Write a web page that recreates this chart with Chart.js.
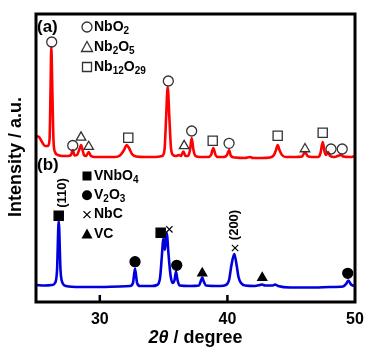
<!DOCTYPE html>
<html>
<head>
<meta charset="utf-8">
<script src="https://cdn.jsdelivr.net/npm/chart.js@4.4.0/dist/chart.umd.min.js"></script>
<style>
  body { margin: 0; background: #fff; }
  #wrap { width: 367px; height: 347px; }
</style>
</head>
<body>
<div id="wrap"><canvas id="xrd" width="367" height="347"></canvas></div>
<script>
// Pattern (a) - red trace (2theta / intensity in arbitrary units)
const redX = [25.0, 25.24, 25.47, 25.7, 25.94, 26.06, 26.14, 26.2, 26.28, 26.37, 26.49, 26.72, 27.04, 27.5,
  27.74, 27.88, 28.02, 28.21, 28.41, 28.53, 28.65, 28.76, 28.92, 29.13, 29.31, 29.62, 30.41, 31.19, 31.58,
  31.9, 32.1, 32.29, 32.52, 32.84, 33.54, 34.33, 34.88, 35.07, 35.19, 35.32, 35.46, 35.58, 35.74, 35.97,
  36.21, 36.36, 36.55, 36.72, 36.91, 37.07, 37.2, 37.34, 37.5, 37.85, 38.48, 38.72, 38.9, 39.07, 39.26,
  39.73, 39.97, 40.13, 40.28, 40.6, 41.38, 41.77, 42.0, 42.71, 43.34, 43.65, 43.81, 43.94, 44.08, 44.28,
  44.59, 45.3, 45.85, 46.08, 46.28, 46.63, 47.1, 47.3, 47.47, 47.62, 47.73, 47.89, 48.05, 48.37, 48.92,
  49.08, 49.62, 50.0];
const redY = [166, 165, 160, 156, 156, 162, 212, 255, 212, 162, 150, 147, 146, 146,
  147, 152, 146.5, 147, 153, 157, 152, 147, 146, 150, 146, 145, 145, 145, 146.5,
  152, 157, 154, 148, 145.5, 145, 145, 146, 152, 182, 215, 182, 154, 147, 146,
  147, 146, 150.5, 146, 146, 152, 164, 152, 146, 145, 145, 147, 154, 147, 145,
  145, 147, 152, 146, 144.5, 144, 145, 144, 144, 144.5, 147, 152, 157, 152, 147,
  145, 145, 145.5, 150, 146, 145, 145, 149, 160, 150, 147, 150, 146, 145, 147,
  145.5, 145, 146];

// Pattern (b) - blue trace
const blueX = [25.0, 25.7, 26.25, 26.49, 26.65, 26.78, 26.92, 27.08, 27.35, 28.45, 30.02, 31.58, 32.37,
  32.6, 32.76, 32.92, 33.15, 34.09, 34.48, 34.72, 34.87, 34.98, 35.1, 35.24, 35.39, 35.54, 35.7, 35.86,
  35.97, 36.09, 36.25, 37.07, 37.77, 37.89, 38.03, 38.16, 38.32, 39.42, 39.89, 40.13, 40.32, 40.54, 40.72,
  40.87, 41.07, 41.38, 42.16, 42.55, 42.71, 42.95, 43.57, 43.73, 43.97, 44.91, 45.69, 46.87, 48.05, 49.07,
  49.3, 49.48, 49.69, 50.0];
const blueY = [17, 16.5, 17, 19, 32, 81, 32, 19, 16, 15, 15, 15.5, 16,
  19, 33.5, 19, 16, 16, 17, 24, 47, 64, 52, 69, 47, 27, 19, 22,
  30.5, 22, 16.5, 16, 16.5, 20, 24.5, 20, 16.5, 16, 17, 22, 37, 48, 37,
  25, 19, 16.5, 16, 17, 17.5, 16.5, 16.5, 17.5, 16, 14.5, 14.5, 14.5, 15, 15.5,
  18, 21.5, 17.5, 16];

// Phase markers for (a)
const nbo2X = [26.23, 27.88, 35.37, 37.2, 40.13, 48.12, 49.0];
const nbo2Y = [260, 156.5, 221, 171, 158.7, 153, 153];
const nb2o5X = [28.53, 29.13, 36.61, 46.08];
const nb2o5Y = [164.7, 155.3, 156.2, 153];
const nb12o29X = [32.23, 38.85, 43.94, 47.47];
const nb12o29Y = [164.3, 161.3, 166.3, 169.3];

// Phase markers for (b)
const vnbo4X = [26.78, 34.77];
const vnbo4Y = [86.3, 69.3];
const v2o3X = [32.76, 36.03, 49.43];
const v2o3Y = [40.3, 36.7, 28.7];
const nbcX = [35.45, 40.6];
const nbcY = [72.7, 54];
const vcX = [38.03, 42.73];
const vcY = [28.7, 24.3];

// Axis ticks
const tickValues = [30, 40, 50];

const legendA = ['NbO2', 'Nb2O5', 'Nb12O29'];
const legendB = ['VNbO4', 'V2O3', 'NbC', 'VC'];
const peakLabels = ['(110)', '(200)'];

const FONT = '"Liberation Sans", Arial, sans-serif';

function toPoints(xs, ys) {
    return xs.map((x, i) => ({ x: x, y: ys[i] }));
}

function markerSet(xs, ys, style, radius, filled, width) {
    return {
        data: toPoints(xs, ys),
        showLine: false,
        pointStyle: style,
        pointRadius: radius,
        pointHoverRadius: radius,
        pointBorderWidth: width || 1.3,
        pointBorderColor: filled ? '#000' : '#333',
        pointBackgroundColor: filled ? '#000' : 'rgba(0,0,0,0)',
        order: 0
    };
}

// Draw a symbol for the in-plot legends
function drawSymbol(ctx, style, filled, x, y) {
    ctx.save();
    ctx.beginPath();
    if (style === 'circle') {
        ctx.arc(x, y, 5, 0, Math.PI * 2);
    } else if (style === 'triangle') {
        ctx.moveTo(x, y - 5.5);
        ctx.lineTo(x + 5.5, y + 4.5);
        ctx.lineTo(x - 5.5, y + 4.5);
        ctx.closePath();
    } else if (style === 'rect') {
        ctx.rect(x - 4.5, y - 4.5, 9, 9);
    } else if (style === 'cross') {
        ctx.moveTo(x - 3.5, y - 3.5); ctx.lineTo(x + 3.5, y + 3.5);
        ctx.moveTo(x + 3.5, y - 3.5); ctx.lineTo(x - 3.5, y + 3.5);
    }
    if (filled && style !== 'cross') {
        ctx.fillStyle = '#000';
        ctx.fill();
    } else {
        ctx.strokeStyle = filled ? '#000' : '#333';
        ctx.lineWidth = 1.3;
        ctx.stroke();
    }
    ctx.restore();
}

// Write a formula with digits as subscripts
function drawFormula(ctx, text, x, y) {
    let cx = x;
    text.match(/\d+|\D+/g).forEach(part => {
        const sub = /\d/.test(part);
        ctx.font = sub ? 'bold 10px ' + FONT : 'bold 14px ' + FONT;
        ctx.fillText(part, cx, sub ? y + 4 : y);
        cx += ctx.measureText(part).width;
    });
}

const decorPlugin = {
    id: 'decor',
    afterDatasetsDraw(chart) {
        const ctx = chart.ctx;
        const area = chart.chartArea;
        const xs = chart.scales.x;
        const ys = chart.scales.y;

        ctx.save();
        // inward tick marks
        ctx.strokeStyle = '#000';
        ctx.lineWidth = 2.5;
        tickValues.forEach(v => {
            if (v <= xs.min || v >= xs.max) return;
            const px = xs.getPixelForValue(v);
            ctx.beginPath();
            ctx.moveTo(px, area.bottom);
            ctx.lineTo(px, area.bottom - 7);
            ctx.stroke();
        });

        // frame
        ctx.lineWidth = 3;
        ctx.strokeRect(area.left, area.top, area.right - area.left, area.bottom - area.top);

        // panel letters
        ctx.fillStyle = '#000';
        ctx.textBaseline = 'middle';
        ctx.textAlign = 'left';
        ctx.font = 'bold 17px ' + FONT;
        ctx.fillText('(a)', area.left + 1, area.top + 13);
        ctx.fillText('(b)', area.left + 1, area.top + 151);

        // legends
        const symA = ['circle', 'triangle', 'rect'];
        legendA.forEach((name, i) => {
            const y = area.top + 13 + i * 20;
            drawSymbol(ctx, symA[i], false, area.left + 51, y);
            ctx.fillStyle = '#000';
            drawFormula(ctx, name, area.left + 58, y);
        });
        const symB = ['rect', 'circle', 'cross', 'triangle'];
        legendB.forEach((name, i) => {
            const y = area.top + 162 + i * 19.3;
            drawSymbol(ctx, symB[i], true, area.left + 51, y);
            ctx.fillStyle = '#000';
            drawFormula(ctx, name, area.left + 58, y);
        });

        // rotated reflection labels
        const peakPos = [[27.06, 109], [40.54, 77]];
        ctx.font = 'bold 13px ' + FONT;
        ctx.textAlign = 'center';
        peakLabels.forEach((lab, i) => {
            ctx.save();
            ctx.translate(xs.getPixelForValue(peakPos[i][0]), ys.getPixelForValue(peakPos[i][1]));
            ctx.rotate(-Math.PI / 2);
            ctx.fillText(lab, 0, 0);
            ctx.restore();
        });

        // axis titles
        ctx.save();
        ctx.font = 'bold 18px ' + FONT;
        ctx.translate(16, 157);
        ctx.rotate(-Math.PI / 2);
        ctx.textAlign = 'center';
        ctx.fillText('Intensity / a.u.', 0, 0);
        ctx.restore();

        ctx.textBaseline = 'alphabetic';
        ctx.textAlign = 'left';
        const partA = '2\u03B8';
        const partB = ' / degree';
        ctx.font = 'italic bold 18px ' + FONT;
        const wA = ctx.measureText(partA).width;
        ctx.font = 'bold 18px ' + FONT;
        const wB = ctx.measureText(partB).width;
        const startX = (area.left + area.right) / 2 - (wA + wB) / 2;
        ctx.font = 'italic bold 18px ' + FONT;
        ctx.fillText(partA, startX, 343);
        ctx.font = 'bold 18px ' + FONT;
        ctx.fillText(partB, startX + wA, 343);
        ctx.restore();
    }
};

const chart = new Chart(document.getElementById('xrd'), {
    type: 'line',
    data: {
        datasets: [
            markerSet(nbo2X, nbo2Y, 'circle', 5, false),
            markerSet(nb2o5X, nb2o5Y, 'triangle', 5.5, false),
            markerSet(nb12o29X, nb12o29Y, 'rect', 6.5, false),
            markerSet(vnbo4X, vnbo4Y, 'rect', 6.5, true),
            markerSet(v2o3X, v2o3Y, 'circle', 5, true),
            markerSet(nbcX, nbcY, 'crossRot', 4.5, true, 1.2),
            markerSet(vcX, vcY, 'triangle', 5.2, true),
            {
                data: toPoints(redX, redY),
                borderColor: '#ff0000',
                borderWidth: 2.6,
                pointRadius: 0,
                cubicInterpolationMode: 'monotone',
                order: 1
            },
            {
                data: toPoints(blueX, blueY),
                borderColor: '#0000dd',
                borderWidth: 2.6,
                pointRadius: 0,
                cubicInterpolationMode: 'monotone',
                order: 1
            }
        ]
    },
    options: {
        responsive: false,
        animation: false,
        layout: { padding: { left: 36, top: 14, right: 12, bottom: 0 } },
        plugins: {
            legend: { display: false },
            tooltip: { enabled: false }
        },
        scales: {
            x: {
                type: 'linear',
                min: 25,
                max: 50,
                grid: { display: false, drawTicks: false },
                border: { display: false },
                afterBuildTicks: scale => {
                    scale.ticks = tickValues.map(v => ({ value: v }));
                },
                afterFit: scale => {
                    // fixed axis band below the frame, no extra side padding
                    scale.height = 45;
                    scale.paddingLeft = 0;
                    scale.paddingRight = 0;
                },
                ticks: {
                    color: '#000',
                    padding: 8,
                    maxRotation: 0,
                    font: { family: FONT, size: 16, weight: 'bold' }
                }
            },
            y: {
                display: false,
                min: 0,
                max: 288
            }
        }
    },
    plugins: [decorPlugin]
});
</script>
</body>
</html>
